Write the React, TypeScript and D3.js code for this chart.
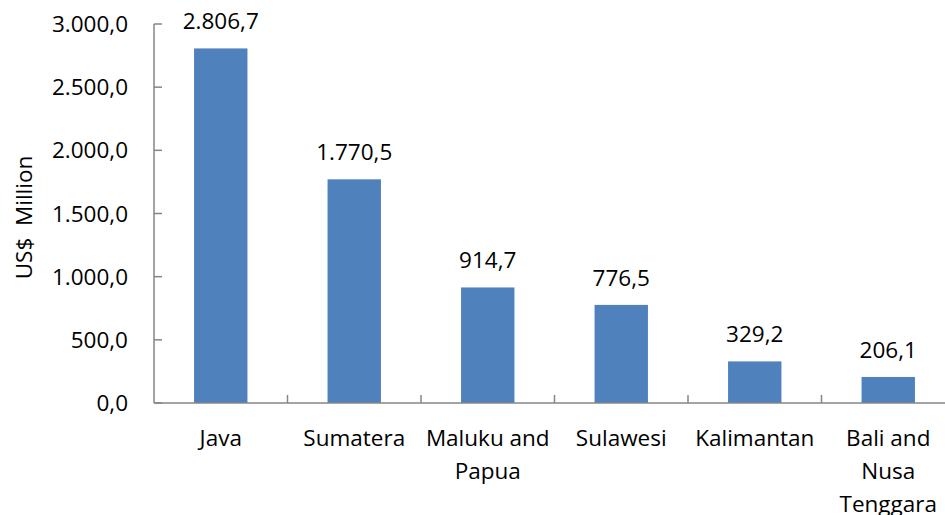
import { useRef, useEffect } from 'react'
import * as d3 from 'd3'

const REGIONS = ['Java', 'Sumatera', 'Maluku and Papua', 'Sulawesi', 'Kalimantan', 'Bali and Nusa Tenggara']
const REGION_LINES = [['Java'], ['Sumatera'], ['Maluku and', 'Papua'], ['Sulawesi'], ['Kalimantan'], ['Bali and', 'Nusa', 'Tenggara']]
const VALUES = [2806.7, 1770.5, 914.7, 776.5, 329.2, 206.1]
const Y_TICKS = [0, 500, 1000, 1500, 2000, 2500, 3000]

const WIDTH = 945
const HEIGHT = 515
const LEFT = 154
const RIGHT = 955
const TOP = 24
const BOTTOM = 403
const FONT = '"Open Sans", sans-serif'
const FS = 22.5

const idLocale = d3.formatLocale({ decimal: ',', thousands: '.', grouping: [3], currency: ['', ''] })
const fmt = idLocale.format(',.1f')

export default function App() {
  const svgRef = useRef<SVGSVGElement>(null)

  useEffect(() => {
    if (!svgRef.current) return
    const svg = d3.select(svgRef.current)
    svg.selectAll('*').remove()

    const x = d3.scaleBand().domain(REGIONS).range([LEFT, RIGHT]).paddingInner(0.6).paddingOuter(0.3)
    const y = d3.scaleLinear().domain([0, 3000]).range([BOTTOM, TOP])
    const step = x.step()
    const axisColor = '#868686'

    // y ticks + labels
    svg.append('g').selectAll('line').data(Y_TICKS).join('line')
      .attr('x1', LEFT).attr('x2', LEFT + 8)
      .attr('y1', d => y(d)).attr('y2', d => y(d))
      .attr('stroke', axisColor).attr('stroke-width', 1.5)
    svg.append('g').selectAll('text').data(Y_TICKS).join('text')
      .attr('x', LEFT - 26).attr('y', d => y(d)).attr('dy', '0.36em')
      .attr('text-anchor', 'end').attr('font-family', FONT).attr('font-size', FS).attr('fill', '#000')
      .text(d => fmt(d))

    // bars
    svg.append('g').selectAll('rect').data(VALUES).join('rect')
      .attr('x', (_, i) => x(REGIONS[i])!)
      .attr('width', x.bandwidth())
      .attr('y', d => y(d))
      .attr('height', d => BOTTOM - y(d))
      .attr('fill', '#4F81BD')

    // value labels
    svg.append('g').selectAll('text').data(VALUES).join('text')
      .attr('x', (_, i) => x(REGIONS[i])! + x.bandwidth() / 2)
      .attr('y', d => y(d) - 19)
      .attr('text-anchor', 'middle').attr('font-family', FONT).attr('font-size', FS).attr('fill', '#000')
      .text(d => fmt(d))

    // axes
    svg.append('line').attr('x1', LEFT).attr('x2', LEFT).attr('y1', TOP).attr('y2', BOTTOM)
      .attr('stroke', axisColor).attr('stroke-width', 1.5)
    svg.append('line').attr('x1', LEFT).attr('x2', RIGHT).attr('y1', BOTTOM).attr('y2', BOTTOM)
      .attr('stroke', axisColor).attr('stroke-width', 1.5)

    // category boundary ticks
    svg.append('g').selectAll('line').data(REGIONS.slice(1)).join('line')
      .attr('x1', d => x(d)! - step * 0.3).attr('x2', d => x(d)! - step * 0.3)
      .attr('y1', BOTTOM).attr('y2', BOTTOM - 8)
      .attr('stroke', axisColor).attr('stroke-width', 1.5)

    // category labels
    const cat = svg.append('g').selectAll('text').data(REGIONS).join('text')
      .attr('text-anchor', 'middle').attr('font-family', FONT).attr('font-size', FS).attr('fill', '#000')
      .attr('transform', d => `translate(${x(d)! + x.bandwidth() / 2},446)`)
    cat.each(function (_, i) {
      d3.select(this).selectAll('tspan').data(REGION_LINES[i]).join('tspan')
        .attr('x', 0).attr('y', (_, j) => j * 33)
        .text(t => t)
    })

    // y title
    svg.append('text')
      .attr('transform', `translate(32,${(TOP + BOTTOM) / 2 + 4}) rotate(-90)`)
      .attr('text-anchor', 'middle').attr('font-family', FONT).attr('font-size', FS).attr('fill', '#000')
      .attr('xml:space', 'preserve')
      .text('US$  Million')
  }, [])

  return (
    <div style={{ position: 'absolute', left: 0, top: 0 }}>
      <svg ref={svgRef} width={WIDTH} height={HEIGHT} style={{ display: 'block', background: '#fff' }} />
    </div>
  )
}
